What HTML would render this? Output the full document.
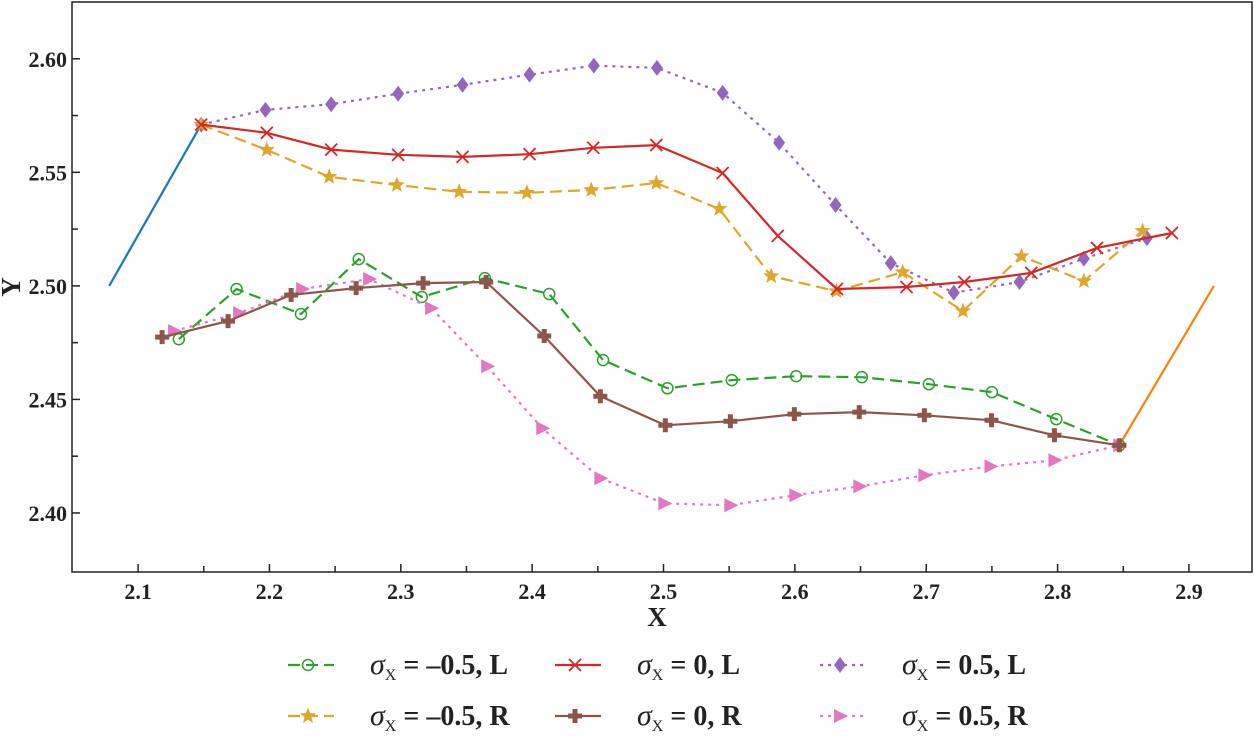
<!DOCTYPE html>
<html><head><meta charset="utf-8"><style>
body{margin:0;background:#fff;}
svg{display:block;font-family:"Liberation Serif",serif;font-weight:bold;}
</style></head><body>
<svg id="chart" width="1255" height="736" xmlns="http://www.w3.org/2000/svg">
<g id="plot"></g>
<g id="legend"></g>
</svg>
<script>
const xTicks=[2.1,2.2,2.3,2.4,2.5,2.6,2.7,2.8,2.9];
const xTickLabels=["2.1","2.2","2.3","2.4","2.5","2.6","2.7","2.8","2.9"];
const yTicks=[2.40,2.45,2.50,2.55,2.60];
const yTickLabels=["2.40","2.45","2.50","2.55","2.60"];
const blueX=[2.078,2.148];const blueY=[2.500,2.571];
const orangeX=[2.847,2.919];const orangeY=[2.4298,2.500];
const gX=[2.131,2.175,2.224,2.268,2.316,2.364,2.413,2.454,2.503,2.552,2.601,2.651,2.702,2.750,2.799,2.847];
const gY=[2.4765,2.4986,2.4876,2.5118,2.4951,2.5034,2.4964,2.4673,2.4549,2.4585,2.4602,2.4598,2.4567,2.4532,2.4413,2.4298];
const rX=[2.148,2.198,2.247,2.298,2.347,2.398,2.4465,2.4945,2.545,2.587,2.632,2.685,2.729,2.780,2.830,2.887];
const rY=[2.571,2.5674,2.560,2.5577,2.5568,2.558,2.5608,2.562,2.5497,2.522,2.4986,2.4995,2.5017,2.5057,2.5167,2.5233];
const pX=[2.148,2.197,2.247,2.298,2.347,2.398,2.447,2.495,2.545,2.588,2.631,2.673,2.721,2.771,2.820,2.868];
const pY=[2.571,2.5775,2.580,2.5846,2.5885,2.593,2.597,2.596,2.585,2.563,2.5356,2.510,2.497,2.5017,2.512,2.521];
const yX=[2.148,2.198,2.2455,2.297,2.3445,2.396,2.445,2.4945,2.5425,2.582,2.6316,2.682,2.728,2.7725,2.820,2.8647];
const yY=[2.571,2.5599,2.548,2.5444,2.5414,2.541,2.5422,2.5453,2.5339,2.5043,2.4977,2.506,2.4889,2.5131,2.5021,2.5242];
const bX=[2.1183,2.1685,2.2165,2.266,2.317,2.365,2.4092,2.4519,2.5014,2.5509,2.5996,2.649,2.6986,2.7497,2.7976,2.847];
const bY=[2.4774,2.4845,2.496,2.499,2.5012,2.5017,2.4779,2.4514,2.4386,2.4404,2.4435,2.4444,2.443,2.4408,2.4342,2.4298];
const kX=[2.1274,2.1769,2.2249,2.2759,2.3231,2.3658,2.4077,2.4519,2.5006,2.5509,2.6004,2.6491,2.6986,2.7489,2.7976,2.847];
const kY=[2.4801,2.488,2.4986,2.503,2.4902,2.4646,2.4373,2.4153,2.4042,2.4034,2.4078,2.4117,2.4166,2.4205,2.4232,2.4298];

const L=72,R=1252,T=2,B=572;
const X0=2.0497,X1=2.948,Y0=2.374,Y1=2.625;
const sx=v=>L+(v-X0)/(X1-X0)*(R-L);
const sy=v=>B-(v-Y0)/(Y1-Y0)*(B-T);
const NS="http://www.w3.org/2000/svg";
const plot=document.getElementById('plot');
function mk(tag,attrs,parent){const e=document.createElementNS(NS,tag);for(const k in attrs)e.setAttribute(k,attrs[k]);(parent||plot).appendChild(e);return e;}

const frame=mk('rect',{x:L,y:T,width:R-L,height:B-T,fill:'none',stroke:'#222','stroke-width':1.5});


xTicks.forEach((t,i)=>{
  const x=sx(t);
  const tk=mk('line',{x1:x,x2:x,y1:B,y2:B-8,stroke:'#222','stroke-width':1.5});
  
  
  const m=sx(t+0.05);
  if(m<R){const mt=mk('line',{x1:m,x2:m,y1:B,y2:B-6,stroke:'#222','stroke-width':1.5});
  
  }
  const tx=mk('text',{x:x,y:B+27,'text-anchor':'middle','font-size':22,fill:'#222'});
  tx.textContent=xTickLabels[i];
  
  
});
yTicks.forEach((t,i)=>{
  const y=sy(t);
  const tk=mk('line',{x1:L,x2:L+8,y1:y,y2:y,stroke:'#222','stroke-width':1.5});
  
  
  const m=sy(t+0.025);
  if(m>T){const mt=mk('line',{x1:L,x2:L+6,y1:m,y2:m,stroke:'#222','stroke-width':1.5});
  
  }
  const tx=mk('text',{x:L-5,y:y+8,'text-anchor':'end','font-size':22,fill:'#222'});
  tx.textContent=yTickLabels[i];
  
  
});
const xt=mk('text',{x:657,y:626,'text-anchor':'middle','font-size':27,fill:'#222'});xt.textContent='X';


const yt=mk('text',{x:0,y:0,'text-anchor':'middle','font-size':27,fill:'#222',transform:'translate(20,287) rotate(-90)'});yt.textContent='Y';



function marker(type,x,y,c,parent){
  let e;
  if(type==='o') e=mk('circle',{cx:x,cy:y,r:5.5,fill:'none',stroke:c,'stroke-width':1.5},parent);
  else if(type==='x') e=mk('path',{d:`M${x-6},${y-6}L${x+6},${y+6}M${x-6},${y+6}L${x+6},${y-6}`,stroke:c,'stroke-width':1.8,fill:'none'},parent);
  else if(type==='d') e=mk('path',{d:`M${x},${y-8}L${x+6},${y}L${x},${y+8}L${x-6},${y}Z`,fill:c},parent);
  else if(type==='s'){let p='';for(let k=0;k<10;k++){const r=k%2?3.6:8.5,a=-Math.PI/2+k*Math.PI/5;p+=(k?'L':'M')+(x+r*Math.cos(a)).toFixed(1)+','+(y+r*Math.sin(a)).toFixed(1);}e=mk('path',{d:p+'Z',fill:c},parent);}
  else if(type==='p') e=mk('path',{d:`M${x-2.5},${y-7}h5v4.5h4.5v5h-4.5v4.5h-5v-4.5h-4.5v-5h4.5Z`,fill:c},parent);
  else if(type==='t') e=mk('path',{d:`M${x-6},${y-7}L${x+8},${y}L${x-6},${y+7}Z`,fill:c},parent);
  return e;
}
const series=[
 {n:'series-blue',xs:blueX,ys:blueY,c:'#1f77b4',d:'',m:null},
 {n:'series-orange',xs:orangeX,ys:orangeY,c:'#ff7f0e',d:'',m:null},
 {n:'series-sigma-0.5-L',xs:pX,ys:pY,c:'#9467bd',d:'3,5',m:'d'},
 {n:'series-sigma-neg0.5-R',xs:yX,ys:yY,c:'#dca72c',d:'12,6',m:'s'},
 {n:'series-sigma-0-L',xs:rX,ys:rY,c:'#d62728',d:'',m:'x'},
 {n:'series-sigma-neg0.5-L',xs:gX,ys:gY,c:'#2ca02c',d:'12,6',m:'o'},
 {n:'series-sigma-0.5-R',xs:kX,ys:kY,c:'#e377c2',d:'3,5',m:'t'},
 {n:'series-sigma-0-R',xs:bX,ys:bY,c:'#8c564b',d:'',m:'p'},
];
series.forEach(s=>{
  const g=mk('g',{});
  
  
  const pts=s.xs.map((v,i)=>sx(v).toFixed(1)+','+sy(s.ys[i]).toFixed(1)).join(' ');
  const pl=mk('polyline',{points:pts,fill:'none',stroke:s.c,'stroke-width':2.2,'stroke-dasharray':s.d||'none'},g);
  
  
  if(s.m) s.xs.forEach((v,i)=>{const e=marker(s.m,sx(v),sy(s.ys[i]),s.c,g);
    
    });
});

const leg=document.getElementById('legend');


const legItems=[
 {col:0,row:0,c:'#2ca02c',d:'12,6',m:'o',v:'\u20130.5, L'},
 {col:1,row:0,c:'#d62728',d:'',m:'x',v:'0, L'},
 {col:2,row:0,c:'#9467bd',d:'3,5',m:'d',v:'0.5, L'},
 {col:0,row:1,c:'#dca72c',d:'12,6',m:'s',v:'\u20130.5, R'},
 {col:1,row:1,c:'#8c564b',d:'',m:'p',v:'0, R'},
 {col:2,row:1,c:'#e377c2',d:'3,5',m:'t',v:'0.5, R'},
];
const colX=[288,555,820],rowY=[665,716];
legItems.forEach(it=>{
  const g=mk('g',{},leg);
  
  
  const x=colX[it.col],y=rowY[it.row];
  mk('line',{x1:x,x2:x+46,y1:y,y2:y,stroke:it.c,'stroke-width':2.2,'stroke-dasharray':it.d||'none'},g);
  marker(it.m,x+20,y,it.c,g);
  const t=mk('text',{x:x+82,y:y+9,'font-size':28,fill:'#222'},g);
  const s1=mk('tspan',{'font-style':'italic','font-weight':'normal','font-size':30},t);s1.textContent='\u03C3';
  const s2=mk('tspan',{'font-size':16,'font-weight':'normal',dy:6},t);s2.textContent='X';
  const s3=mk('tspan',{dy:-6},t);s3.textContent=' = '+it.v;
});
</script>
</body></html>
